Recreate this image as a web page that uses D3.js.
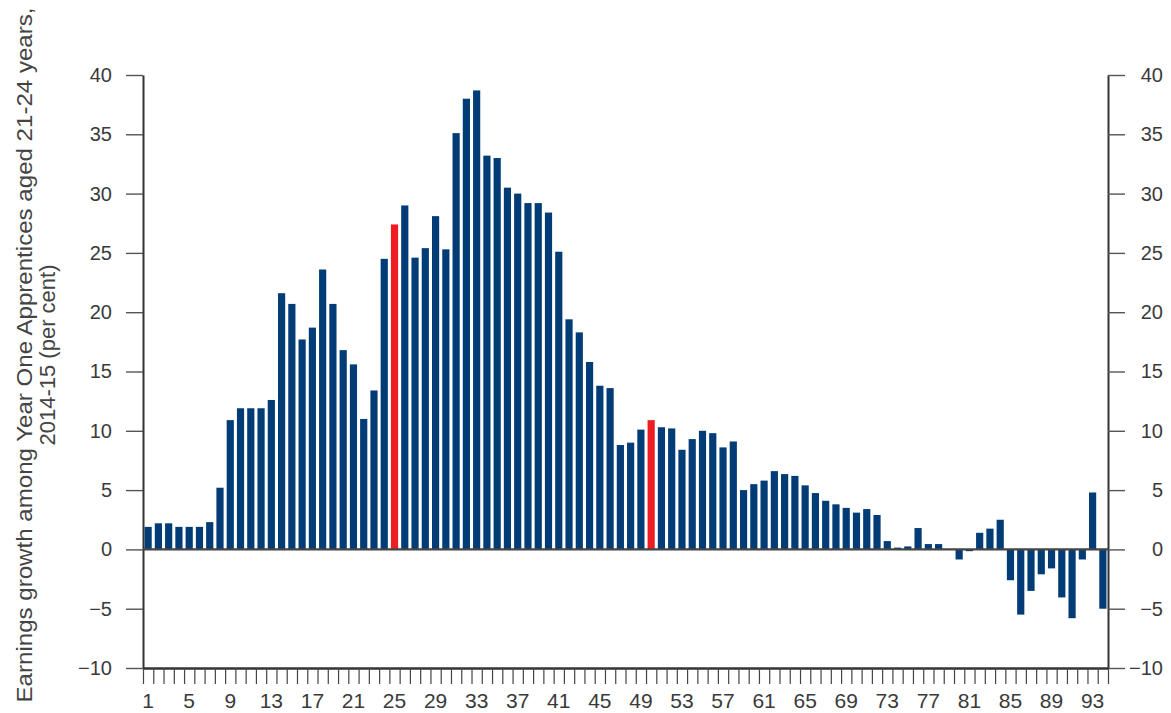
<!DOCTYPE html>
<html>
<head>
<meta charset="utf-8">
<script src="https://cdn.jsdelivr.net/npm/d3@7"></script>
<style>
  html, body { margin: 0; padding: 0; background: #fff; }
  svg { display: block; font-family: "Liberation Sans", Arial, sans-serif; }
</style>
</head>
<body>
<svg id="chart" width="1171" height="713"></svg>
<script>
// ---- Data ----
const categories = d3.range(1, 95);
const values = [
  1.9, 2.2, 2.2, 1.9, 1.9, 1.9, 2.3, 5.2, 10.9, 11.9,
  11.9, 11.9, 12.6, 21.6, 20.7, 17.7, 18.7, 23.6, 20.7, 16.8,
  15.6, 11.0, 13.4, 24.5, 27.4, 29.0, 24.6, 25.4, 28.1, 25.3,
  35.1, 38.0, 38.7, 33.2, 33.0, 30.5, 30.0, 29.2, 29.2, 28.4,
  25.1, 19.4, 18.3, 15.8, 13.8, 13.6, 8.8, 9.0, 10.1, 10.9,
  10.3, 10.2, 8.4, 9.3, 10.0, 9.8, 8.6, 9.1, 5.0, 5.5,
  5.8, 6.6, 6.35, 6.2, 5.4, 4.75, 4.1, 3.8, 3.5, 3.1,
  3.4, 2.9, 0.7, 0.15, 0.25, 1.8, 0.45, 0.45, 0.0, -0.85,
  -0.15, 1.4, 1.75, 2.5, -2.6, -5.5, -3.5, -2.1, -1.6, -4.05,
  -5.8, -0.85, 4.8, -5.0
];
const highlighted = [25, 50];
const yTicks = [-10, -5, 0, 5, 10, 15, 20, 25, 30, 35, 40];
const xTickLabels = d3.range(1, 95, 4);
const titleLines = ["Earnings growth among Year One Apprentices aged 21-24 years,", "2014-15 (per cent)"];

// ---- Layout ----
const svg = d3.select("#chart");
const mLeft = 143, mRight = 1108, mTop = 75, mBottom = 668;
const navy = "#023c76", red = "#ee1d23", axisCol = "#333";

const x = d3.scaleBand().domain(categories).range([mLeft, mRight]).paddingInner(0.3).paddingOuter(0.15);
const xEdge = d3.scaleLinear().domain([0, categories.length]).range([mLeft, mRight]);
const y = d3.scaleLinear().domain([-10, 40]).range([mBottom, mTop]);

// Left axis
const gl = svg.append("g").attr("transform", `translate(${mLeft},0)`)
  .call(d3.axisLeft(y).tickValues(yTicks).tickSize(17).tickPadding(14).tickSizeOuter(0));
// Right axis
const gr = svg.append("g").attr("transform", `translate(${mRight},0)`)
  .call(d3.axisRight(y).tickValues(yTicks).tickSize(17).tickPadding(0).tickSizeOuter(0));
gr.selectAll("text").attr("text-anchor", "end").attr("x", 55);

[gl, gr].forEach(g => {
  g.select(".domain").attr("stroke", axisCol).attr("stroke-width", 2);
  g.selectAll(".tick line").attr("stroke", "#555").attr("stroke-width", 1.4);
  g.selectAll("text").attr("font-size", 20).attr("fill", "#3a3a3a").attr("font-family", null);
});

// Bottom edge ticks (category boundaries)
const gb = svg.append("g").attr("transform", `translate(0,${mBottom})`)
  .call(d3.axisBottom(xEdge).tickValues(d3.range(0, categories.length + 1)).tickSize(16).tickFormat("").tickSizeOuter(0));
gb.select(".domain").attr("stroke", axisCol).attr("stroke-width", 2.5);
gb.selectAll(".tick line").attr("stroke", "#444").attr("stroke-width", 1.2);

// Bottom labels
const gx = svg.append("g").attr("transform", `translate(0,${mBottom})`)
  .call(d3.axisBottom(x).tickValues(xTickLabels).tickSize(0).tickPadding(25));
gx.select(".domain").remove();
gx.selectAll("text").attr("font-size", 21).attr("fill", "#3a3a3a").attr("font-family", null);

// Bars
svg.append("g").selectAll("rect").data(categories).join("rect")
  .attr("x", d => x(d))
  .attr("width", x.bandwidth())
  .attr("y", (d, i) => y(Math.max(0, values[i])))
  .attr("height", (d, i) => Math.abs(y(values[i]) - y(0)))
  .attr("fill", d => highlighted.includes(d) ? red : navy);

// Zero line
svg.append("line")
  .attr("x1", mLeft).attr("x2", mRight)
  .attr("y1", y(0)).attr("y2", y(0))
  .attr("stroke", "#444").attr("stroke-width", 2.2);

// Title
const title = svg.append("text")
  .attr("transform", `translate(32,${355}) rotate(-90)`)
  .attr("text-anchor", "middle")
  .attr("font-size", 22)
  .attr("fill", "#444");
title.selectAll("tspan").data(titleLines).join("tspan")
  .attr("x", 0)
  .attr("dy", (d, i) => i === 0 ? 0 : 23)
  .attr("textLength", (d, i) => i === 0 ? 695 : null)
  .attr("lengthAdjust", "spacingAndGlyphs")
  .text(d => d);
</script>
</body>
</html>
